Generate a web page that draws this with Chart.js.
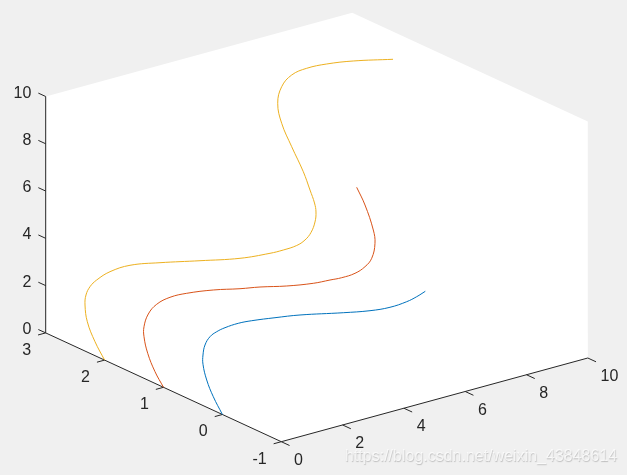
<!DOCTYPE html>
<html>
<head>
<meta charset="utf-8">
<title>plot3</title>
<script src="https://cdn.jsdelivr.net/npm/chart.js@4"></script>
<style>
  html, body { margin: 0; padding: 0; background: #f0f0f0; overflow: hidden; }
  #wrap { width: 627px; height: 475px; }
</style>
</head>
<body>
<div id="wrap"><canvas id="myChart" width="627" height="475"></canvas></div>
<script>
// Tick labels
const xTicks = [0, 2, 4, 6, 8, 10];
const yTicks = [-1, 0, 1, 2, 3];
const zTicks = [0, 2, 4, 6, 8, 10];

// Curves, one line per y level
const yBlue = 0;
const xBlue = [0, -0.297, -0.512, -0.633, -0.633, -0.568, -0.405, -0.186, 0.085, 0.519, 0.956, 1.716, 2.532, 3.945, 4.816, 5.468, 6.013, 6.339, 6.62];
const zBlue = [0, 0.858, 1.641, 2.348, 2.741, 3.141, 3.434, 3.568, 3.642, 3.674, 3.629, 3.487, 3.313, 2.909, 2.686, 2.599, 2.643, 2.739, 2.868];

const yRed = 1;
const xRed = [0, -0.277, -0.515, -0.636, -0.636, -0.496, -0.222, 0.212, 0.757, 1.625, 2.496, 3.148, 4.02, 4.887, 5.432, 5.814, 6.248, 6.574, 6.793, 6.9, 6.845, 6.574, 6.303];
const zRed = [0, 0.758, 1.621, 2.365, 2.789, 3.276, 3.59, 3.732, 3.708, 3.541, 3.287, 3.128, 2.862, 2.669, 2.615, 2.578, 2.61, 2.774, 3.052, 3.648, 4.231, 5.384, 6.228];

const yYellow = 2;
const xYellow = [0, -0.313, -0.564, -0.639, -0.607, -0.476, -0.258, 0.176, 0.829, 1.808, 3.113, 4.418, 5.396, 5.83, 6.268, 6.538, 6.734, 6.864, 6.897, 6.848, 6.701, 6.483, 6.104, 5.778, 5.648, 5.778, 6.104, 6.594, 7.246, 8.114, 9.41];
const zYellow = [0, 0.889, 1.824, 2.557, 2.969, 3.274, 3.48, 3.677, 3.717, 3.48, 3.102, 2.742, 2.607, 2.593, 2.629, 2.766, 3.014, 3.412, 3.823, 4.221, 4.823, 5.674, 6.866, 7.971, 8.863, 9.52, 9.899, 10.009, 9.96, 9.78, 9.393];

const xRange = [0, 10];
const yRange = [-1, 3];
const zRange = [0, 10];

// 3D view onto the flat scales
function project(x, y, z) {
  return {
    x: 281.3 + 30.65 * x - 58.9 * (y + 1),
    y: 441.7 - 8.37 * x - 27.2 * (y + 1) - 23.64 * z
  };
}

function curve(xs, yLevel, zs) {
  return xs.map(function (x, i) { return project(x, yLevel, zs[i]); });
}

// null between pairs keeps the tick marks apart
function segments(pairs) {
  var pts = [];
  pairs.forEach(function (p) {
    pts.push(p[0], p[1], { x: null, y: null });
  });
  return pts;
}

const axisColor = '#262626';

const axisLines = [
  [project(0, 3, 0), project(0, 3, 10)],
  [project(0, 3, 0), project(0, -1, 0)],
  [project(0, -1, 0), project(10, -1, 0)]
];

const tickLen = { x: 0.14, y: 0.25, z: 0.125 };

const tickMarks = [];
xTicks.forEach(function (t) {
  tickMarks.push([project(t, -1, 0), project(t, -1 - tickLen.x, 0)]);
});
yTicks.forEach(function (t) {
  tickMarks.push([project(0, t, 0), project(-tickLen.y, t, 0)]);
});
zTicks.forEach(function (t) {
  tickMarks.push([project(0, 3, t), project(0, 3 + tickLen.z, t)]);
});

const lineStyle = { showLine: true, pointRadius: 0, borderWidth: 1, tension: 0.4, fill: false };

const data = {
  datasets: [
    Object.assign({ data: curve(xBlue, yBlue, zBlue), borderColor: '#0072BD' }, lineStyle),
    Object.assign({ data: curve(xRed, yRed, zRed), borderColor: '#D95319' }, lineStyle),
    Object.assign({ data: curve(xYellow, yYellow, zYellow), borderColor: '#EDB120' }, lineStyle),
    { data: segments(axisLines), showLine: true, pointRadius: 0, borderWidth: 1, borderColor: axisColor, spanGaps: false },
    { data: segments(tickMarks), showLine: true, pointRadius: 0, borderWidth: 1, borderColor: axisColor, spanGaps: false }
  ]
};

// White box walls go under the curves
const wallPlugin = {
  id: 'walls',
  beforeDatasetsDraw: function (chart) {
    const sx = chart.scales.x, sy = chart.scales.y, ctx = chart.ctx;
    const corners = [
      project(xRange[0], yRange[1], zRange[0]),
      project(xRange[0], yRange[1], zRange[1]),
      project(xRange[1], yRange[1], zRange[1]),
      project(xRange[1], yRange[0], zRange[1]),
      project(xRange[1], yRange[0], zRange[0]),
      project(xRange[0], yRange[0], zRange[0])
    ];
    ctx.save();
    ctx.fillStyle = '#ffffff';
    ctx.beginPath();
    corners.forEach(function (c, i) {
      if (i === 0) ctx.moveTo(sx.getPixelForValue(c.x), sy.getPixelForValue(c.y));
      else ctx.lineTo(sx.getPixelForValue(c.x), sy.getPixelForValue(c.y));
    });
    ctx.closePath();
    ctx.fill();
    ctx.restore();
  }
};

// Tick labels and the watermark
const labelPlugin = {
  id: 'labels',
  afterDatasetsDraw: function (chart) {
    const sx = chart.scales.x, sy = chart.scales.y, ctx = chart.ctx;
    function put(text, p, dx, dy, align) {
      ctx.textAlign = align;
      ctx.fillText(text, sx.getPixelForValue(p.x) + dx, sy.getPixelForValue(p.y) + dy);
    }
    ctx.save();
    ctx.font = '16px "Liberation Sans", Arial, sans-serif';
    ctx.textBaseline = 'middle';
    ctx.fillStyle = axisColor;
    xTicks.forEach(function (t) { put(String(t), project(t, -1 - tickLen.x, 0), 4.5, 15, 'left'); });
    yTicks.forEach(function (t) { put(String(t), project(-tickLen.y, t, 0), -7, 15.5, 'right'); });
    zTicks.forEach(function (t) { put(String(t), project(0, 3 + tickLen.z, t), -7, 0, 'right'); });

    ctx.font = '16px "Liberation Sans", Arial, sans-serif';
    ctx.textAlign = 'left';
    ctx.shadowColor = 'rgba(120,120,120,0.55)';
    ctx.shadowBlur = 1;
    ctx.shadowOffsetX = 0.5;
    ctx.shadowOffsetY = 0.5;
    ctx.fillStyle = 'rgba(255,255,255,0.75)';
    ctx.fillText('https://blog.csdn.net/weixin_43848614', 345, 457);
    ctx.restore();
  }
};

const config = {
  type: 'scatter',
  data: data,
  plugins: [wallPlugin, labelPlugin],
  options: {
    responsive: false,
    animation: false,
    layout: { padding: 0 },
    plugins: { legend: { display: false }, tooltip: { enabled: false } },
    scales: {
      x: { type: 'linear', display: false, min: 0, max: 627 },
      y: { type: 'linear', display: false, min: 0, max: 475, reverse: true }
    }
  }
};

const myChart = new Chart(document.getElementById('myChart'), config);
</script>
</body>
</html>
